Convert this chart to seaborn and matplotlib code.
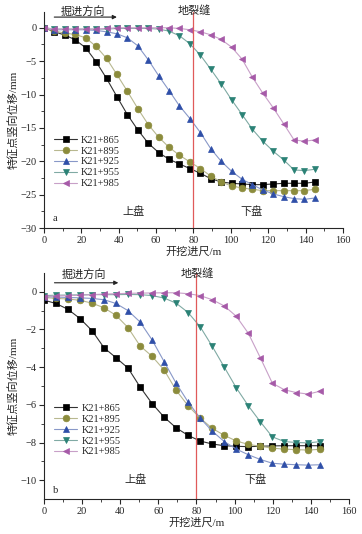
import numpy as np
import pandas as pd
import matplotlib
matplotlib.use("Agg")
import matplotlib.pyplot as plt
import seaborn as sns

sns.set_theme(style="ticks")
plt.rcParams['font.family'] = ['Liberation Serif', 'Noto Sans CJK SC']

# ---- data ----
names = ["K21+865", "K21+895", "K21+925", "K21+955", "K21+985"]

x_a = [0, 5.6, 11.2, 16.7, 22.3, 27.9, 33.5, 39.0, 44.6, 50.2, 55.8, 61.4, 66.9, 72.5,
       78.1, 83.7, 89.2, 94.8, 100.4, 106.0, 111.5, 117.1, 122.7, 128.3, 133.8, 139.4, 145.0]
a_865 = [0, -0.6, -1.1, -1.8, -3.0, -5.1, -7.6, -10.3, -13.0, -15.3, -17.3, -18.7, -19.7, -20.4,
         -21.1, -21.8, -22.6, -23.1, -23.3, -23.4, -23.5, -23.5, -23.4, -23.3, -23.3, -23.3, -23.1]
a_895 = [0, -0.5, -0.8, -1.0, -1.5, -2.8, -4.6, -7.0, -9.5, -12.1, -14.5, -16.4, -17.9, -19.1,
         -20.1, -21.1, -22.2, -23.1, -23.7, -24.0, -24.2, -24.4, -24.4, -24.4, -24.4, -24.4, -24.2]
a_925 = [0, -0.3, -0.3, -0.3, -0.3, -0.4, -0.6, -0.9, -1.5, -2.7, -4.8, -7.2, -9.4, -11.7,
         -13.6, -15.7, -18.1, -20.0, -21.5, -22.7, -23.5, -24.3, -24.9, -25.3, -25.6, -25.7, -25.5]
a_955 = [0, -0.2, -0.2, -0.2, -0.2, -0.2, -0.2, -0.1, -0.1, -0.1, -0.1, -0.2, -0.5, -1.2,
         -2.4, -4.1, -6.2, -8.4, -10.8, -13.0, -15.2, -17.0, -18.5, -19.8, -21.3, -21.4, -21.2]
a_985 = [0, -0.2, -0.2, -0.2, -0.2, -0.2, -0.1, 0, 0, 0, 0, 0, 0, -0.1,
         -0.3, -0.6, -1.05, -1.75, -2.9, -4.7, -7.4, -9.8, -12.0, -14.4, -16.8, -17.0, -16.8]

x_b = [0, 6.3, 12.6, 18.9, 25.2, 31.5, 37.8, 44.1, 50.4, 56.7, 63.0, 69.3, 75.6, 81.9,
       88.3, 94.6, 100.9, 107.2, 113.5, 119.8, 126.1, 132.4, 138.7, 145.0]
b_865 = [-0.44, -0.62, -0.93, -1.42, -2.06, -2.97, -3.5, -4.05, -5.05, -5.93, -6.65, -7.22,
         -7.62, -7.92, -8.08, -8.17, -8.2, -8.22, -8.2, -8.18, -8.17, -8.17, -8.17, -8.17]
b_895 = [-0.3, -0.35, -0.38, -0.45, -0.6, -0.85, -1.25, -1.9, -2.87, -3.42, -4.15, -5.22,
         -6.05, -6.7, -7.25, -7.62, -7.92, -8.1, -8.2, -8.3, -8.35, -8.38, -8.4, -8.36]
b_925 = [-0.25, -0.28, -0.3, -0.32, -0.35, -0.42, -0.62, -1.0, -1.6, -2.55, -3.7, -4.85,
         -5.85, -6.7, -7.4, -7.95, -8.35, -8.65, -8.9, -9.1, -9.15, -9.18, -9.2, -9.18]
b_955 = [-0.2, -0.18, -0.17, -0.16, -0.15, -0.15, -0.15, -0.14, -0.15, -0.2, -0.33, -0.6,
         -1.1, -1.85, -2.9, -4.0, -5.1, -6.05, -6.9, -7.7, -7.95, -8.0, -8.02, -7.95]
b_985 = [-0.25, -0.22, -0.2, -0.18, -0.15, -0.12, -0.1, -0.08, -0.07, -0.06, -0.05, -0.05,
         -0.1, -0.2, -0.42, -0.75, -1.3, -2.2, -3.5, -4.85, -5.2, -5.35, -5.43, -5.27]

markers = ["s", "o", "^", "v", "<"]
mcolors = ["#000000", "#8c8c3c", "#2f4fa8", "#2b8276", "#a65aa8"]
lcolors = ["#333333", "#b8b890", "#8898c8", "#80aaa4", "#c8a0c8"]


def draw(ax, xs, series, ylim, yticks, arrow_y, text_y, crack_y, pan_y, tag, tag_y, leg_y):
    df = pd.DataFrame({n: s for n, s in zip(names, series)})
    df["x"] = xs
    long = df.melt(id_vars="x", var_name="station", value_name="disp")
    for i, n in enumerate(names):
        sub = long[long["station"] == n]
        sns.lineplot(data=sub, x="x", y="disp", ax=ax, color=lcolors[i], lw=0.8,
                     marker=markers[i], markersize=4.8, markerfacecolor=mcolors[i],
                     markeredgecolor=mcolors[i], markeredgewidth=0.5, label=n)
    ax.axvline(80, color="#e05a5a", lw=0.9)
    ax.set_xlim(0, 160)
    ax.set_ylim(*ylim)
    ax.set_xticks(range(0, 161, 20))
    ax.set_yticks(yticks)
    ax.set_xticks(range(10, 161, 20), minor=True)
    ax.set_yticks([(a + b) / 2 for a, b in zip(yticks[:-1], yticks[1:])], minor=True)
    ax.tick_params(labelsize=7.5, length=3.5, width=0.8, pad=2)
    ax.tick_params(which="minor", length=2, width=0.6)
    for s in ["left", "bottom"]:
        ax.spines[s].set_linewidth(0.8)
    sns.despine(ax=ax)
    ax.set_xlabel("开挖进尺/m", fontsize=8, labelpad=1)
    ax.set_ylabel("特征点竖向位移/mm", fontsize=8, labelpad=1)
    ax.annotate("", xy=(39, arrow_y), xytext=(5.5, arrow_y), annotation_clip=False,
                arrowprops=dict(arrowstyle="-|>", color="#222222", lw=0.8,
                                mutation_scale=6, shrinkA=0, shrinkB=0))
    ax.text(21, text_y, "掘进方向", fontsize=8, ha="center", va="center", clip_on=False)
    ax.text(80.5, crack_y, "地裂缝", fontsize=8, ha="center", va="center", clip_on=False)
    ax.text(48, pan_y, "上盘", fontsize=8, ha="center", va="center")
    ax.text(111, pan_y, "下盘", fontsize=8, ha="center", va="center")
    ax.text(6, tag_y, tag, fontsize=7.5, ha="center", va="center")
    ax.legend(loc="lower left", bbox_to_anchor=(0.02, leg_y), frameon=False, fontsize=7.5,
              handlelength=2.2, handletextpad=0.4, labelspacing=0.15, borderaxespad=0)


fig = plt.figure(figsize=(3.62, 5.34), dpi=100)
ax1 = fig.add_axes([0.1215, 0.573, 0.826, 0.405])
ax2 = fig.add_axes([0.1215, 0.0655, 0.8425, 0.4233])

draw(ax1, x_a, [a_865, a_895, a_925, a_955, a_985], (-30, 2.4), list(range(-30, 1, 5)),
     1.6, 2.5, 2.65, -27.6, "a", -28.6, 0.165)
draw(ax2, x_b, [b_865, b_895, b_925, b_955, b_985], (-11, 1), list(range(-10, 1, 2)),
     0.48, 0.9, 0.96, -9.96, "b", -10.55, 0.17)

fig.savefig("out.png", dpi=100)
